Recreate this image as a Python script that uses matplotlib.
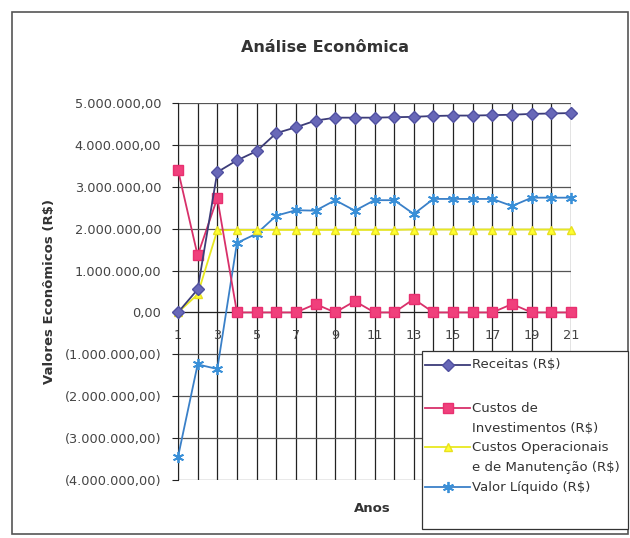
import numpy as np
import matplotlib.pyplot as plt
from matplotlib.ticker import FuncFormatter
from matplotlib.patches import Rectangle
from matplotlib.lines import Line2D

plt.rcParams['font.family'] = ['DejaVu Sans']

anos = list(range(1, 22))

# valores em milhoes de R$
receitas = [0.00, 0.55, 3.35, 3.63, 3.85, 4.28, 4.42, 4.58, 4.65, 4.65, 4.65,
            4.66, 4.67, 4.69, 4.70, 4.70, 4.71, 4.72, 4.74, 4.75, 4.76]
investimentos = [3.40, 1.36, 2.73, 0.00, 0.00, 0.00, 0.00, 0.20, 0.00, 0.27, 0.00,
                 0.00, 0.32, 0.00, 0.00, 0.00, 0.00, 0.20, 0.00, 0.00, 0.00]
operacionais = [0.00, 0.43, 1.96, 1.97, 1.97, 1.97, 1.97, 1.97, 1.97, 1.97, 1.97,
                1.97, 1.98, 1.98, 1.98, 1.98, 1.98, 1.98, 1.98, 1.98, 1.98]
liquido = [-3.45, -1.24, -1.35, 1.66, 1.88, 2.31, 2.44, 2.43, 2.68, 2.43, 2.68,
           2.68, 2.35, 2.71, 2.71, 2.71, 2.71, 2.54, 2.74, 2.74, 2.74]

legendas = ['Receitas (R$)', 'Custos de\nInvestimentos (R$)',
            'Custos Operacionais\ne de Manutenção (R$)', 'Valor Líquido (R$)']

estilos = [
    dict(color='#3c3c78', marker='D', ms=6, mfc='#6868b8', mec='#5050a0'),
    dict(color='#d8306a', marker='s', ms=7, mfc='#f0407c', mec='#e83070'),
    dict(color='#e8e820', marker='^', ms=6, mfc='#ffff30', mec='#e8e020'),
    dict(color='#3a80c8', marker=(6, 2, 0), ms=8, mec='#3a90d8', mew=1.3),
]


def fmt_reais(v, pos):
    s = '{:,.2f}'.format(abs(v) * 1e6)
    s = s.replace(',', '#').replace('.', ',').replace('#', '.')
    return '(' + s + ')' if v < 0 else s


W, H = 630, 538
fig = plt.figure(figsize=(6.3, 5.38), dpi=100)
ax = fig.add_axes([178/W, 1-480/H, (571-178)/W, (480-103)/H])

series = [receitas, investimentos, operacionais, liquido]
for i, s in enumerate(series):
    ax.plot(anos, s, lw=1.3, clip_on=False, zorder=6-i, **estilos[i])

ax.set_xlim(1, 21)
ax.set_ylim(-4, 5)
ax.set_xticks(anos)
ax.set_xticklabels([str(a) if a % 2 == 1 else '' for a in anos])
ax.set_yticks(np.arange(-4, 6, 1))
ax.yaxis.set_major_formatter(FuncFormatter(fmt_reais))
ax.tick_params(axis='x', length=0, pad=12, labelsize=9.3, labelcolor='#444')
ax.tick_params(axis='y', length=4, width=0.8, pad=8, labelsize=9.3,
               color='#222', labelcolor='#444')

ax.grid(axis='x', color='#222', lw=0.9)
ax.grid(axis='y', color='#555', lw=0.9)
ax.set_axisbelow(True)

ax.spines['bottom'].set_position(('data', 0))
ax.spines['bottom'].set_color('#222')
ax.spines['left'].set_color('#222')
ax.spines['top'].set_visible(False)
ax.spines['right'].set_visible(False)

fig.text(325/W, 1-47/H, 'Análise Econômica', ha='center', va='center',
         fontsize=11.5, fontweight='bold', color='#333')
fig.text(50/W, 1-291/H, 'Valores Econômicos (R$)', ha='center', va='center',
         rotation=90, fontsize=9.5, fontweight='bold', color='#333')
fig.text(372/W, 1-508/H, 'Anos', ha='center', va='center',
         fontsize=9.5, fontweight='bold', color='#333')

# legenda desenhada a mao: caixa, amostras e textos
fig.patches.append(Rectangle((422/W, 1-529/H), 206/W, 178/H,
                             transform=fig.transFigure, facecolor='white',
                             edgecolor='#333', lw=0.9, zorder=10))
y_leg = [365, 408, 447, 487]
for i in range(4):
    yy = 1 - y_leg[i]/H
    fig.lines.append(Line2D([425/W, 447.5/W, 470/W], [yy, yy, yy], lw=1.3,
                            transform=fig.transFigure, zorder=11,
                            markevery=[1], **estilos[i]))
    linhas = legendas[i].split('\n')
    for k, txt in enumerate(linhas):
        fig.text(472/W, 1-(y_leg[i] + 20*k)/H, txt, ha='left', va='center',
                 fontsize=9.5, color='#333', zorder=12)

# moldura externa do grafico
fig.patches.append(Rectangle((12/W, 1-534/H), 616/W, 522/H,
                             transform=fig.transFigure, fill=False,
                             edgecolor='#555', lw=1.2))

fig.savefig('out.png', dpi=100)
